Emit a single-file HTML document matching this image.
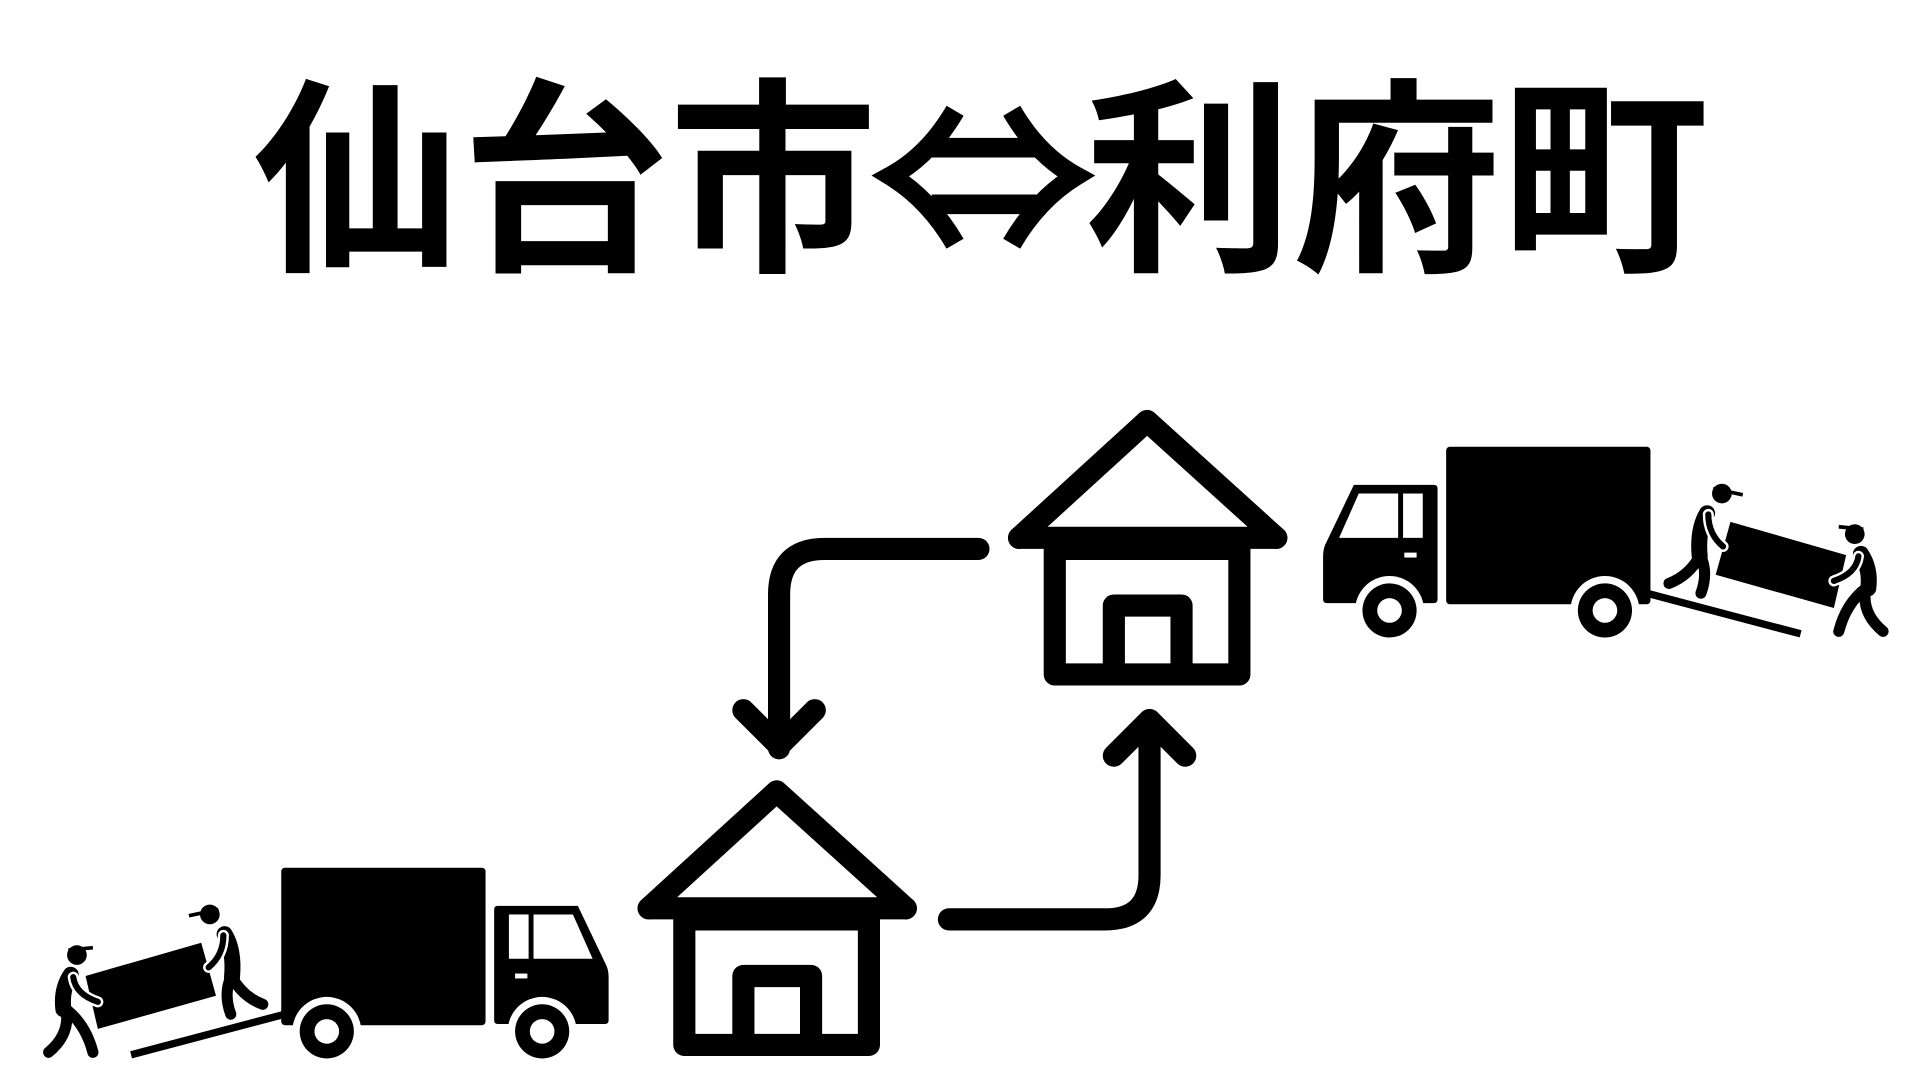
<!DOCTYPE html>
<html><head><meta charset="utf-8"><style>
html,body{margin:0;padding:0;background:#fff;width:1920px;height:1080px;overflow:hidden}
.t{position:absolute;left:0;top:45px;width:1962px;text-align:center;font-family:"Liberation Sans","Noto Sans CJK JP",sans-serif;font-weight:bold;font-size:208px;line-height:240px;height:240px;color:#000;white-space:nowrap}
.a{display:inline-block;width:208px;color:transparent;font-family:"Noto Sans CJK JP",sans-serif}
svg{position:absolute;left:0;top:0}
</style></head><body>
<div class="t">仙台市<span class="a">⇔</span>利府町</div>
<svg width="1920" height="1080" viewBox="0 0 1560 877.5" preserveAspectRatio="none">
<defs>
<g id="house">
  <path d="M828,437 L932,342 L1037,437" fill="none" stroke="#000" stroke-width="18" stroke-linejoin="round" stroke-linecap="round"/>
  <line x1="828" y1="437" x2="1037" y2="437" stroke="#000" stroke-width="18" stroke-linecap="round"/>
  <rect x="857" y="446" width="150" height="102" fill="none" stroke="#000" stroke-width="18" stroke-linejoin="round"/>
  <path d="M905,546 L905,492 L960,492 L960,546" fill="none" stroke="#000" stroke-width="18" stroke-linejoin="round"/>
</g>
<g id="truck">
  <rect x="1175" y="363" width="166" height="128" rx="3" fill="#000"/>
  <path d="M1100,394 L1165,394 Q1168,394 1168,397 L1168,487 Q1168,490 1165,490 L1078,490 Q1075,490 1075,487 L1075,452 Q1075,445 1078,440 Z" fill="#000"/>
  <path d="M1104,401 L1136,401 L1136,437 L1088,437 Z" fill="#fff"/>
  <rect x="1140" y="401" width="16" height="36" fill="#fff"/>
  <rect x="1141" y="449" width="10" height="4" fill="#fff"/>
  <circle cx="1129" cy="496" r="28" fill="#fff"/>
  <circle cx="1129" cy="496" r="22" fill="#000"/>
  <circle cx="1129" cy="496" r="10" fill="#fff"/>
  <circle cx="1304" cy="496" r="28" fill="#fff"/>
  <circle cx="1304" cy="496" r="22" fill="#000"/>
  <circle cx="1304" cy="496" r="10" fill="#fff"/>
  <line x1="1338" y1="482" x2="1463" y2="515" stroke="#000" stroke-width="6"/>
  <polygon points="1406,424 1500,451 1490,494 1394,467" fill="#000"/>
  <circle cx="1399" cy="401" r="8" fill="#000"/>
  <path d="M1392,397 L1416,402" stroke="#000" stroke-width="3"/>
  <path d="M1387,417 Q1379,430 1381,452" stroke="#000" stroke-width="13" stroke-linecap="round" fill="none"/>
  <path d="M1381,452 Q1372,468 1356,474" stroke="#000" stroke-width="9" stroke-linecap="round" fill="none"/>
  <path d="M1382,452 Q1388,466 1382,482" stroke="#000" stroke-width="9" stroke-linecap="round" fill="none"/>
  <path d="M1388,418 Q1388,434 1400,444" stroke="#fff" stroke-width="9" stroke-linecap="round" fill="none"/>
  <path d="M1388,418 Q1388,434 1400,444" stroke="#000" stroke-width="5" stroke-linecap="round" fill="none"/>
  <circle cx="1507" cy="434" r="8" fill="#000"/>
  <path d="M1494,428 L1514,430" stroke="#000" stroke-width="3"/>
  <path d="M1512,450 Q1520,462 1518,478" stroke="#000" stroke-width="13" stroke-linecap="round" fill="none"/>
  <path d="M1516,478 Q1500,490 1494,513" stroke="#000" stroke-width="9" stroke-linecap="round" fill="none"/>
  <path d="M1516,478 Q1512,498 1530,513" stroke="#000" stroke-width="9" stroke-linecap="round" fill="none"/>
  <path d="M1510,452 Q1508,466 1490,472" stroke="#fff" stroke-width="9" stroke-linecap="round" fill="none"/>
  <path d="M1510,452 Q1508,466 1490,472" stroke="#000" stroke-width="5" stroke-linecap="round" fill="none"/>
</g>
</defs>
<path d="M776,90 Q755,126 724,143 Q755,162 776,198" fill="none" stroke="#000" stroke-width="16"/>
<path d="M822,90 Q843,126 874,143 Q843,162 822,198" fill="none" stroke="#000" stroke-width="16"/>
<line x1="757" y1="120" x2="842" y2="120" stroke="#000" stroke-width="16"/>
<line x1="757" y1="166" x2="842" y2="166" stroke="#000" stroke-width="16"/>
<use href="#house"/>
<use href="#house" transform="translate(-301,301)"/>
<path d="M795,446 L670,446 Q633,446 633,483 L633,608" fill="none" stroke="#000" stroke-width="18" stroke-linecap="round"/>
<path d="M604,577 L633,606 L662,577" fill="none" stroke="#000" stroke-width="18" stroke-linecap="round" stroke-linejoin="round"/>
<path d="M771,747 L898,747 Q934,747 934,711 L934,587" fill="none" stroke="#000" stroke-width="18" stroke-linecap="round"/>
<path d="M905,614 L934,585 L963,614" fill="none" stroke="#000" stroke-width="18" stroke-linecap="round" stroke-linejoin="round"/>
<use href="#truck"/>
<use href="#truck" transform="translate(1569.5,342) scale(-1,1)"/>
</svg>
</body></html>
